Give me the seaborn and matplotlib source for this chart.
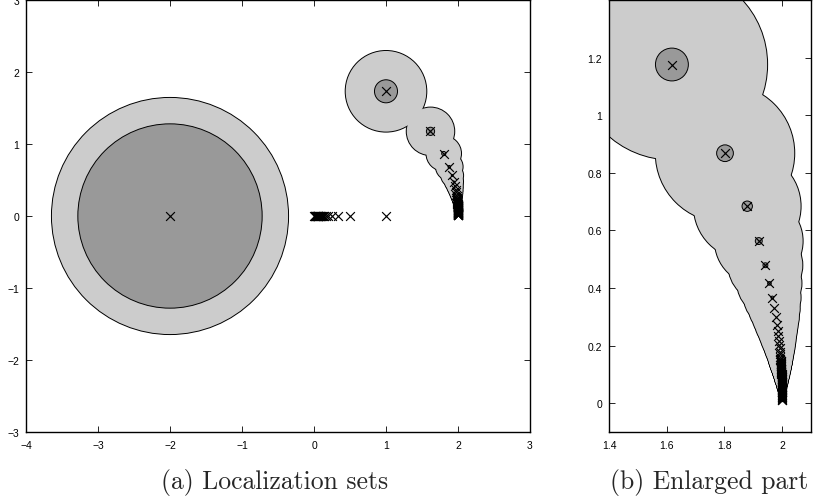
import matplotlib
matplotlib.use('Agg')
import matplotlib.pyplot as plt
import seaborn as sns
from matplotlib.patches import Circle

sns.set_style('ticks')
plt.rcParams['font.family'] = ['Liberation Sans', 'DejaVu Sans']

# eigenvalue crosses on the arc towards 2 (with their localization discs)
arc_x = [1.000, 1.618, 1.802, 1.879, 1.919, 1.942, 1.956, 1.966, 1.973, 1.978,
         1.981, 1.984, 1.986, 1.988, 1.990, 1.991, 1.992, 1.993, 1.994, 1.994]
arc_y = [1.732, 1.176, 0.868, 0.684, 0.563, 0.479, 0.416, 0.367, 0.329, 0.298,
         0.272, 0.251, 0.232, 0.216, 0.202, 0.190, 0.179, 0.170, 0.161, 0.153]
arc_R = [0.560, 0.330, 0.240, 0.185, 0.152, 0.128, 0.111, 0.098, 0.088, 0.080,
         0.073, 0.067, 0.062, 0.058, 0.054, 0.051, 0.048, 0.045, 0.043, 0.041]

# dense tail of the arc close to 2
tail_x = [1.994, 1.995, 1.995, 1.995, 1.995, 1.995, 1.995, 1.996, 1.996, 1.996,
          1.996, 1.996, 1.996, 1.997, 1.997, 1.997, 1.997, 1.997, 1.997, 1.997,
          1.998, 1.998, 1.998, 1.998, 1.998, 1.998, 1.998, 1.998, 1.998, 1.998,
          1.999, 1.999, 1.999, 1.999, 1.999, 1.999, 1.999, 1.999, 1.999, 1.999,
          1.999, 1.999, 2.000, 2.000, 2.000, 2.000, 2.000, 2.000, 2.000, 2.000,
          2.000, 2.000, 2.000, 2.000, 2.000, 2.000, 2.000]
tail_y = [0.150, 0.1475, 0.145, 0.1425, 0.140, 0.1375, 0.135, 0.1325, 0.130, 0.1275,
          0.125, 0.1225, 0.120, 0.1175, 0.115, 0.1125, 0.110, 0.1075, 0.105, 0.1025,
          0.100, 0.0975, 0.095, 0.0925, 0.090, 0.0875, 0.085, 0.0825, 0.080, 0.0775,
          0.075, 0.0725, 0.070, 0.0675, 0.065, 0.0625, 0.060, 0.0575, 0.055, 0.0525,
          0.050, 0.0475, 0.045, 0.0425, 0.040, 0.0375, 0.035, 0.0325, 0.030, 0.0275,
          0.025, 0.0225, 0.020, 0.0175, 0.015, 0.0125, 0.010]
tail_R = [0.040, 0.039, 0.039, 0.038, 0.037, 0.037, 0.036, 0.035, 0.035, 0.034,
          0.033, 0.033, 0.032, 0.031, 0.031, 0.030, 0.029, 0.029, 0.028, 0.027,
          0.027, 0.026, 0.025, 0.025, 0.024, 0.023, 0.023, 0.022, 0.021, 0.021,
          0.020, 0.019, 0.019, 0.018, 0.017, 0.017, 0.016, 0.015, 0.015, 0.014,
          0.013, 0.013, 0.012, 0.011, 0.011, 0.010, 0.009, 0.009, 0.008, 0.007,
          0.007, 0.006, 0.005, 0.005, 0.004, 0.003, 0.003]

# isolated eigenvalue at -2
big_x = [-2.0]
big_y = [0.0]
big_R = [1.64]

# inner (dark) discs
inner_x = [-2.0, 1.000, 1.618, 1.802, 1.879, 1.919, 1.942, 1.956, 1.966]
inner_y = [0.0, 1.732, 1.176, 0.868, 0.684, 0.563, 0.479, 0.416, 0.367]
inner_r = [1.28, 0.160, 0.057, 0.029, 0.018, 0.012, 0.0085, 0.0064, 0.0049]

# crosses on the real axis (no visible discs)
real_x = [1.0, 0.5, 0.333, 0.25, 0.2, 0.167, 0.143, 0.125, 0.111, 0.1,
          0.091, 0.083, 0.077, 0.071, 0.067, 0.062, 0.059, 0.056, 0.053, 0.05,
          0.045, 0.04, 0.035, 0.03, 0.025, 0.02, 0.015, 0.01, 0.005]
real_y = [0.0] * len(real_x)

disc_x = big_x + arc_x + tail_x
disc_y = big_y + arc_y + tail_y
disc_R = big_R + arc_R + tail_R
cross_x = disc_x + real_x
cross_y = disc_y + real_y

light = '#cccccc'
dark = '#999999'


def draw_sets(ax):
    # union of the outer discs: outlines first, fills on top hide inner edges
    for x, y, r in zip(disc_x, disc_y, disc_R):
        ax.add_patch(Circle((x, y), r, facecolor='none', edgecolor='black', lw=1.4, zorder=1))
    for x, y, r in zip(disc_x, disc_y, disc_R):
        ax.add_patch(Circle((x, y), r, facecolor=light, edgecolor='none', zorder=2))
    for x, y, r in zip(inner_x, inner_y, inner_r):
        ax.add_patch(Circle((x, y), r, facecolor=dark, edgecolor='black', lw=0.7, zorder=3))
    sns.scatterplot(x=cross_x, y=cross_y, marker='x', color='black', s=40,
                    linewidth=0.85, ax=ax, zorder=4, legend=False)
    ax.tick_params(direction='in', top=True, right=True, bottom=True, left=True,
                   length=4, width=0.6, labelsize=7.5, colors='black')
    ax.tick_params(axis='x', pad=6)
    ax.tick_params(axis='y', pad=5)
    for s in ax.spines.values():
        s.set_visible(True)
        s.set_color('black')
        s.set_linewidth(1.0)


fig = plt.figure(figsize=(8.15, 5.02), dpi=100)
W, H = 815, 502
ax1 = fig.add_axes([26 / W, (H - 433) / H, 504 / W, 432 / H])
ax2 = fig.add_axes([609 / W, (H - 433) / H, 202 / W, 432 / H])

draw_sets(ax1)
ax1.set_xlim(-4, 3)
ax1.set_ylim(-3, 3)
ax1.set_xticks(range(-4, 4))
ax1.set_xticklabels([str(v).replace('-', '\u2212') for v in range(-4, 4)])
ax1.set_yticks(range(-3, 4))
ax1.set_yticklabels([str(v).replace('-', '\u2212') for v in range(-3, 4)])

draw_sets(ax2)
ax2.set_xlim(1.4, 2.1)
ax2.set_ylim(-0.1, 1.4)
ax2.set_xticks([1.4, 1.6, 1.8, 2.0])
ax2.set_xticklabels(['1.4', '1.6', '1.8', '2'])
ax2.set_yticks([0, 0.2, 0.4, 0.6, 0.8, 1.0, 1.2])
ax2.set_yticklabels(['0', '0.2', '0.4', '0.6', '0.8', '1', '1.2'])

fig.text(275 / W, 13 / H, '(a) Localization sets', family='cmr10', fontsize=18.5,
         ha='center', va='baseline')
fig.text(709.5 / W, 13 / H, '(b) Enlarged part', family='cmr10', fontsize=18.5,
         ha='center', va='baseline')

fig.savefig('out.png', dpi=100)
